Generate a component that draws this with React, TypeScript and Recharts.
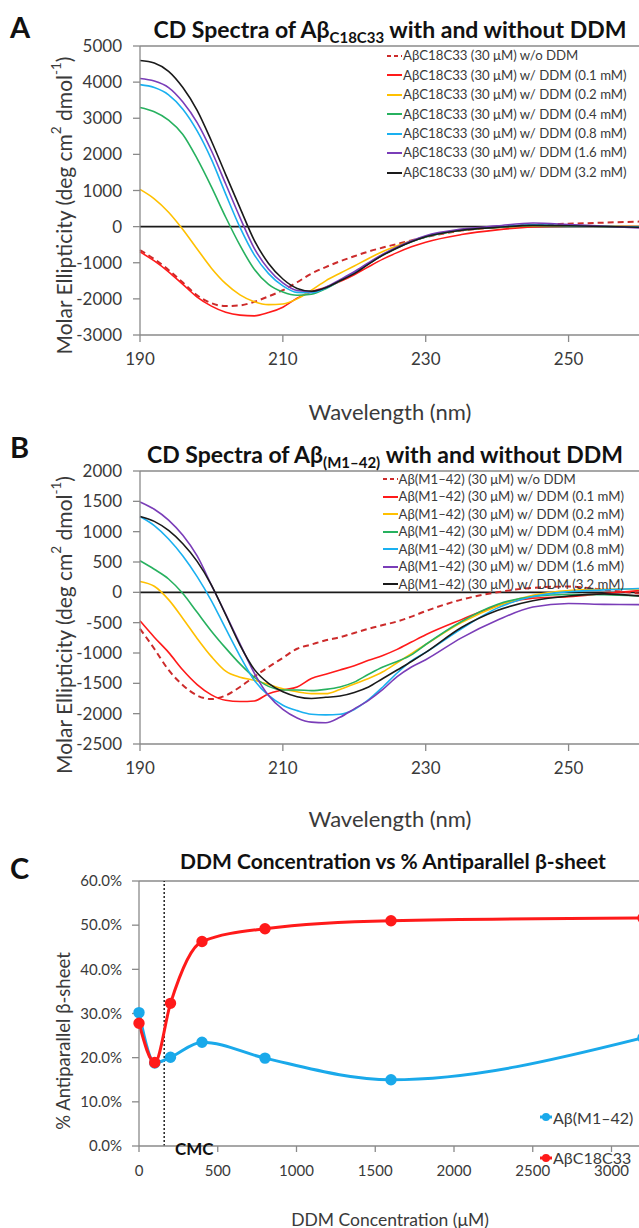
import React from 'react';
import { LineChart, Line, XAxis, YAxis, ReferenceLine, Legend } from 'recharts';

const FONT = 'Lato, "Open Sans", "DejaVu Sans", sans-serif';
const TXT = '#3a3a3a';
const AX = '#8a8a8a';

// ---------- Panels A & B : wavelength grid (nm) ----------
const wavelengths = [190, 192, 194, 196, 198, 200, 202, 204, 206, 208, 210, 212, 214, 216, 218, 220, 222, 224, 226, 228, 230, 235, 240, 245, 250, 255, 260];

const seriesColors = ['#cc2b2b', '#ff1a1a', '#ffc000', '#27b15f', '#1ab0f0', '#7a3db8', '#1a1a1a'];

// Panel A : Aβ C18C33
const namesA = [
  'AβC18C33 (30 μM) w/o DDM',
  'AβC18C33 (30 μM) w/ DDM (0.1 mM)',
  'AβC18C33 (30 μM) w/ DDM (0.2 mM)',
  'AβC18C33 (30 μM) w/ DDM (0.4 mM)',
  'AβC18C33 (30 μM) w/ DDM (0.8 mM)',
  'AβC18C33 (30 μM) w/ DDM (1.6 mM)',
  'AβC18C33 (30 μM) w/ DDM (3.2 mM)',
];
const aWithout = [-650, -900, -1200, -1550, -1900, -2120, -2200, -2180, -2080, -1930, -1760, -1540, -1300, -1120, -960, -820, -690, -580, -480, -380, -290, -110, -20, 50, 80, 110, 140];
const aDdm01 = [-700, -950, -1250, -1600, -1950, -2200, -2370, -2450, -2470, -2380, -2230, -1980, -1800, -1680, -1520, -1330, -1110, -900, -720, -560, -430, -220, -90, -10, 10, 10, 0];
const aDdm02 = [1030, 770, 400, -80, -620, -1150, -1580, -1890, -2080, -2160, -2140, -2000, -1760, -1500, -1290, -1090, -880, -690, -530, -390, -280, -100, -25, 20, 20, 10, 0];
const aDdm04 = [3300, 3180, 2950, 2550, 1880, 1100, 260, -520, -1180, -1600, -1810, -1900, -1870, -1720, -1500, -1270, -1030, -790, -590, -420, -290, -100, -20, 30, 20, 5, -10];
const aDdm08 = [3930, 3850, 3650, 3250, 2650, 1860, 900, -20, -780, -1300, -1640, -1820, -1830, -1700, -1490, -1270, -1020, -780, -580, -410, -270, -90, -10, 50, 30, 10, -10];
const aDdm16 = [4100, 4030, 3850, 3450, 2880, 2100, 1180, 250, -600, -1180, -1560, -1770, -1800, -1680, -1470, -1250, -1000, -760, -560, -390, -250, -70, 20, 100, 60, 10, -40];
const aDdm32 = [4600, 4530, 4300, 3850, 3220, 2370, 1440, 520, -380, -1020, -1450, -1710, -1790, -1690, -1500, -1300, -1040, -790, -590, -420, -280, -100, -20, 35, 25, 5, -20];
const yTicksA = [-3000, -2000, -1000, 0, 1000, 2000, 3000, 4000, 5000];

// Panel B : Aβ(M1–42)
const namesB = [
  'Aβ(M1–42) (30 μM) w/o DDM',
  'Aβ(M1–42) (30 μM) w/ DDM (0.1 mM)',
  'Aβ(M1–42) (30 μM) w/ DDM (0.2 mM)',
  'Aβ(M1–42) (30 μM) w/ DDM (0.4 mM)',
  'Aβ(M1–42) (30 μM) w/ DDM (0.8 mM)',
  'Aβ(M1–42) (30 μM) w/ DDM (1.6 mM)',
  'Aβ(M1–42) (30 μM) w/ DDM (3.2 mM)',
];
const bWithout = [-600, -930, -1280, -1530, -1700, -1760, -1700, -1560, -1390, -1230, -1080, -930, -860, -790, -740, -670, -600, -540, -480, -400, -310, -120, 0, 75, 95, 40, -20];
const bDdm01 = [-470, -740, -990, -1280, -1520, -1690, -1780, -1800, -1790, -1670, -1610, -1560, -1420, -1350, -1280, -1210, -1120, -1040, -940, -820, -700, -450, -220, -95, -70, -20, 30];
const bDdm02 = [180, 100, -120, -430, -760, -1060, -1300, -1400, -1450, -1520, -1590, -1640, -1670, -1670, -1600, -1510, -1420, -1310, -1160, -1010, -860, -500, -230, -50, 30, 50, 55];
const bDdm04 = [520, 380, 220, -20, -330, -640, -920, -1180, -1400, -1550, -1610, -1610, -1620, -1600, -1560, -1480, -1350, -1230, -1140, -1030, -860, -480, -200, -70, -35, -40, -60];
const bDdm08 = [1250, 1100, 880, 600, 260, -140, -600, -1050, -1450, -1700, -1860, -1950, -2010, -2020, -2010, -1930, -1770, -1560, -1330, -1130, -990, -600, -260, -70, 10, 40, 65];
const bDdm16 = [1490, 1370, 1190, 940, 600, 120, -360, -850, -1330, -1700, -1930, -2070, -2140, -2150, -2060, -1920, -1780, -1600, -1390, -1230, -1110, -750, -460, -243, -185, -198, -203];
const bDdm32 = [1250, 1170, 1020, 800, 510, 120, -370, -870, -1270, -1500, -1640, -1720, -1750, -1730, -1710, -1650, -1560, -1420, -1280, -1140, -990, -580, -300, -140, -60, -25, -60];
const yTicksB = [-2500, -2000, -1500, -1000, -500, 0, 500, 1000, 1500, 2000];

const xTicksSpectra = [190, 210, 230, 250];

// Panel C : % antiparallel β-sheet vs DDM concentration
const concentrations = [0, 100, 200, 400, 800, 1600, 3200];
const pctM142 = [30.2, 18.8, 20.1, 23.5, 19.9, 15.0, 24.5];
const pctC18C33 = [27.8, 18.9, 32.3, 46.3, 49.2, 51.0, 51.6];
const xTicksC = [0, 500, 1000, 1500, 2000, 2500, 3000];
const yTicksC = [0, 10, 20, 30, 40, 50, 60];
const cmcValue = 160;
const colorM142 = '#1aa9ea';
const colorC18 = '#ff1a1a';

const buildRows = (cols: number[][]) =>
  wavelengths.map((w, i) => {
    const r: any = { wl: w };
    cols.forEach((c, k) => (r['s' + k] = c[i]));
    return r;
  });

const rowsA = buildRows([aWithout, aDdm01, aDdm02, aDdm04, aDdm08, aDdm16, aDdm32]);
const rowsB = buildRows([bWithout, bDdm01, bDdm02, bDdm04, bDdm08, bDdm16, bDdm32]);
const rowsC = concentrations.map((c, i) => ({ c, m142: pctM142[i], c18: pctC18C33[i] }));

const CHART_W = 660;

function SpectraLegend({ names, rowH, fontSize, gap }: any) {
  return (
    <div style={{ fontFamily: FONT, fontSize, color: TXT, whiteSpace: 'nowrap' }}>
      {names.map((n: string, k: number) => (
        <div key={k} style={{ display: 'flex', alignItems: 'center', height: rowH, lineHeight: rowH + 'px' }}>
          <svg width={15} height={6} style={{ marginRight: gap, flex: 'none' }}>
            <line x1={0} y1={3} x2={15} y2={3} stroke={seriesColors[k]} strokeWidth={2} strokeDasharray={k === 0 ? '4 3' : undefined} />
          </svg>
          <span>{n}</span>
        </div>
      ))}
    </div>
  );
}

function YLabelSpectra({ cy }: { cy: number }) {
  const cx = 63;
  return (
    <text x={cx} y={cy} transform={`rotate(-90 ${cx} ${cy})`} textAnchor="middle" dominantBaseline="central" fontSize={21} fill={TXT} fontFamily={FONT}>
      Molar Ellipticity (deg cm<tspan dy={-7} fontSize={13.5}>2</tspan>
      <tspan dy={7}> dmol</tspan>
      <tspan dy={-7} fontSize={13.5}>-1</tspan>
      <tspan dy={7}>)</tspan>
    </text>
  );
}

function Spectra({ rows, names, yDomain, yTicks, top, height, mTop, mBottom, yLabelCy, xLabelDy, legendLeft, legendTop, legendRowH, legendFont, legendGap }: any) {
  const plotBottom = height - mBottom;
  return (
    <div style={{ position: 'absolute', left: 0, top, width: CHART_W, height }}>
      <LineChart width={CHART_W} height={height} data={rows} margin={{ top: mTop, right: 20, bottom: mBottom, left: 0 }}>
        <XAxis
          dataKey="wl"
          type="number"
          domain={[190, 260]}
          ticks={xTicksSpectra}
          tick={{ fontSize: 17, fill: TXT, fontFamily: FONT }}
          tickSize={7}
          tickMargin={11}
          axisLine={{ stroke: AX, strokeWidth: 1.3 }}
          tickLine={{ stroke: AX, strokeWidth: 1.3 }}
          label={() => (
            <text x={390} y={plotBottom + xLabelDy} textAnchor="middle" dominantBaseline="central" fontSize={22} fill={TXT} fontFamily={FONT}>
              Wavelength (nm)
            </text>
          )}
        />
        <YAxis
          type="number"
          domain={yDomain}
          ticks={yTicks}
          width={140}
          tick={{ fontSize: 17, fill: TXT, fontFamily: FONT }}
          tickSize={7}
          tickMargin={11}
          axisLine={{ stroke: AX, strokeWidth: 1.3 }}
          tickLine={{ stroke: AX, strokeWidth: 1.3 }}
          label={() => <YLabelSpectra cy={yLabelCy} />}
        />
        <ReferenceLine y={yDomain[1]} stroke={AX} strokeWidth={1.3} />
        <ReferenceLine y={0} stroke="#1a1a1a" strokeWidth={1.6} />
        {names.map((n: string, k: number) => (
          <Line
            key={k}
            dataKey={'s' + k}
            name={n}
            type="monotone"
            stroke={seriesColors[k]}
            strokeWidth={k === 0 ? 2 : 1.6}
            strokeDasharray={k === 0 ? '6 4' : undefined}
            dot={false}
            activeDot={false}
            isAnimationActive={false}
          />
        ))}
        <Legend
          layout="vertical"
          align="center"
          verticalAlign="middle"
          wrapperStyle={{ left: legendLeft, top: legendTop, width: 'auto', height: 'auto' }}
          content={() => <SpectraLegend names={names} rowH={legendRowH} fontSize={legendFont} gap={legendGap} />}
        />
      </LineChart>
    </div>
  );
}

function LegendC() {
  const items = [
    { name: 'Aβ(M1–42)', color: colorM142, y: 0 },
    { name: 'AβC18C33', color: colorC18, y: 40.6 },
  ];
  return (
    <div style={{ position: 'relative', fontFamily: FONT, fontSize: 16, color: TXT, whiteSpace: 'nowrap', width: 95, height: 60 }}>
      {items.map((it) => (
        <div key={it.name} style={{ position: 'absolute', left: 0, top: it.y, height: 20, display: 'flex', alignItems: 'center' }}>
          <svg width={12} height={10} style={{ flex: 'none' }}>
            <line x1={0} y1={5} x2={12} y2={5} stroke={it.color} strokeWidth={3} />
            <circle cx={6} cy={5} r={4} fill={it.color} />
          </svg>
          <span style={{ marginLeft: 1 }}>{it.name}</span>
        </div>
      ))}
    </div>
  );
}

function PanelC() {
  const top = 830;
  const height = 398;
  return (
    <div style={{ position: 'absolute', left: 0, top, width: CHART_W, height }}>
      <LineChart width={CHART_W} height={height} data={rowsC} margin={{ top: 51, right: 17, bottom: 52, left: 0 }}>
        <XAxis
          dataKey="c"
          type="number"
          domain={[0, 3200]}
          ticks={xTicksC}
          tick={{ fontSize: 15, fill: TXT, fontFamily: FONT }}
          tickSize={6}
          tickMargin={13}
          axisLine={{ stroke: AX, strokeWidth: 1.3 }}
          tickLine={{ stroke: AX, strokeWidth: 1.3 }}
          label={() => (
            <text x={390} y={389} textAnchor="middle" dominantBaseline="central" fontSize={17.5} fill={TXT} fontFamily={FONT}>
              DDM Concentration (μM)
            </text>
          )}
        />
        <YAxis
          type="number"
          domain={[0, 60]}
          ticks={yTicksC}
          width={139}
          tickFormatter={(v: number) => v.toFixed(1) + '%'}
          tick={{ fontSize: 15, fill: TXT, fontFamily: FONT }}
          tickSize={7}
          tickMargin={10}
          axisLine={{ stroke: AX, strokeWidth: 1.3 }}
          tickLine={{ stroke: AX, strokeWidth: 1.3 }}
          label={() => (
            <text x={63} y={211} transform="rotate(-90 63 211)" textAnchor="middle" dominantBaseline="central" fontSize={18.5} fill={TXT} fontFamily={FONT}>
              % Antiparallel β-sheet
            </text>
          )}
        />
        <ReferenceLine y={60} stroke={AX} strokeWidth={1.3} />
        <ReferenceLine x={cmcValue} stroke="#222" strokeWidth={1.5} strokeDasharray="2 2" />
        <Line dataKey="m142" name="Aβ(M1–42)" type="monotone" stroke={colorM142} strokeWidth={3} dot={{ r: 4.2, fill: colorM142, stroke: colorM142 }} activeDot={false} isAnimationActive={false} />
        <Line dataKey="c18" name="AβC18C33" type="monotone" stroke={colorC18} strokeWidth={3} dot={{ r: 4.2, fill: colorC18, stroke: colorC18 }} activeDot={false} isAnimationActive={false} />
        <Legend layout="vertical" align="center" verticalAlign="middle" wrapperStyle={{ left: 540, top: 277, width: 'auto', height: 'auto' }} content={() => <LegendC />} />
      </LineChart>
    </div>
  );
}

export default function App() {
  return (
    <div style={{ position: 'absolute', left: 0, top: 0, width: 639, height: 1228, overflow: 'hidden', background: '#fff' }}>
      <Spectra
        rows={rowsA}
        names={namesA}
        yDomain={[-3000, 5000]}
        yTicks={yTicksA}
        top={0}
        height={430}
        mTop={46}
        mBottom={65}
        yLabelCy={205.5}
        xLabelDy={46}
        legendLeft={386.5}
        legendTop={46.3}
        legendRowH={19.45}
        legendFont={13.2}
        legendGap={1.5}
      />
      <Spectra
        rows={rowsB}
        names={namesB}
        yDomain={[-2500, 2000]}
        yTicks={yTicksB}
        top={430}
        height={420}
        mTop={41}
        mBottom={76}
        yLabelCy={195}
        xLabelDy={44}
        legendLeft={383}
        legendTop={40.5}
        legendRowH={17.5}
        legendFont={13.2}
        legendGap={0.5}
      />
      <PanelC />
      <svg width={639} height={1228} style={{ position: 'absolute', left: 0, top: 0, pointerEvents: 'none' }} fontFamily={FONT}>
        <text x={10} y={38} fontSize={29} fontWeight={700} fill="#111">A</text>
        <text x={390} y={38} textAnchor="middle" fontSize={23} fontWeight={700} fill="#111">
          CD Spectra of Aβ<tspan fontSize={15} dy={5}>C18C33</tspan>
          <tspan dy={-5}> with and without DDM</tspan>
        </text>
        <text x={10} y={458} fontSize={29} fontWeight={700} fill="#111">B</text>
        <text x={385} y={463} textAnchor="middle" fontSize={23} fontWeight={700} fill="#111">
          CD Spectra of Aβ<tspan fontSize={15} dy={5}>(M1–42)</tspan>
          <tspan dy={-5}> with and without DDM</tspan>
        </text>
        <text x={10} y={879} fontSize={29} fontWeight={700} fill="#111">C</text>
        <text x={393} y={869} textAnchor="middle" fontSize={21} fontWeight={700} fill="#111">
          DDM Concentration vs % Antiparallel β-sheet
        </text>
        <text x={175} y={1155} fontSize={17} fontWeight={700} fill="#111">CMC</text>
      </svg>
    </div>
  );
}
